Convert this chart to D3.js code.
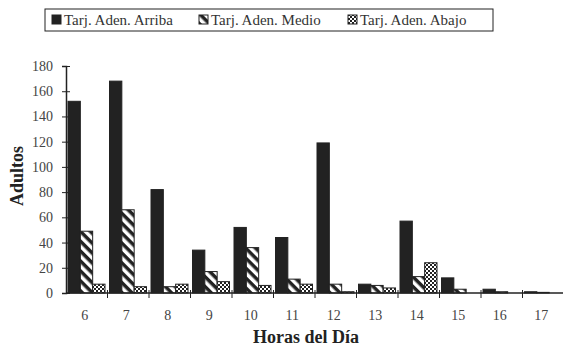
<!DOCTYPE html>
<html>
<head>
<meta charset="utf-8">
<script src="https://cdn.jsdelivr.net/npm/d3@7"></script>
<style>
  body { margin: 0; background: #fff; }
  svg { display: block; font-family: "Liberation Serif", "DejaVu Serif", serif; }
</style>
</head>
<body>
<div id="chart"></div>
<script>
// Chart data
var hours = ['6', '7', '8', '9', '10', '11', '12', '13', '14', '15', '16', '17'];
var seriesNames = ['Tarj. Aden. Arriba', 'Tarj. Aden. Medio', 'Tarj. Aden. Abajo'];
var arriba = [152, 168, 82, 34, 52, 44, 119, 7, 57, 12, 3, 1];
var medio = [49, 66, 5, 17, 36, 11, 7, 6, 13, 3, 1, 0.5];
var abajo = [7, 5, 7, 9, 6, 7, 1, 4, 24, 0, 0, 0];
var yTicks = [0, 20, 40, 60, 80, 100, 120, 140, 160, 180];

var width = 563, height = 349;
var margin = { top: 66, right: -1, bottom: 56, left: 66 };
var ink = "#222";

var svg = d3.select("#chart")
    .append("svg")
    .attr("width", width)
    .attr("height", height);

// Fill patterns: stripes for Medio, checker for Abajo
var defs = svg.append("defs");
var stripes = defs.append("pattern")
    .attr("id", "stripes")
    .attr("patternUnits", "userSpaceOnUse")
    .attr("width", 7).attr("height", 7)
    .attr("patternTransform", "rotate(-45)");
stripes.append("rect").attr("width", 7).attr("height", 7).attr("fill", ink);
stripes.append("rect").attr("x", 0).attr("width", 3.5).attr("height", 7).attr("fill", "#fff");

var checker = defs.append("pattern")
    .attr("id", "checker")
    .attr("patternUnits", "userSpaceOnUse")
    .attr("width", 4).attr("height", 4);
checker.append("rect").attr("width", 4).attr("height", 4).attr("fill", ink);
checker.append("rect").attr("x", 0).attr("y", 0).attr("width", 2).attr("height", 2).attr("fill", "#fff");
checker.append("rect").attr("x", 2).attr("y", 2).attr("width", 2).attr("height", 2).attr("fill", "#fff");

var fills = [ink, "url(#stripes)", "url(#checker)"];

var x = d3.scaleBand().domain(hours).range([margin.left, width - margin.right]).padding(0);
var y = d3.scaleLinear().domain([0, 180]).range([height - margin.bottom, margin.top]);
var sub = d3.scaleBand().domain([0, 1, 2]).range([2, x.bandwidth() - 2.5]).padding(0);

// Bars
var rows = hours.map(function(h, i) {
    return [arriba[i], medio[i], abajo[i]].map(function(v, k) {
        return { hour: h, k: k, value: v };
    });
}).flat();

svg.append("g")
    .selectAll("rect")
    .data(rows)
    .enter().append("rect")
    .attr("x", d => x(d.hour) + sub(d.k))
    .attr("y", d => y(d.value))
    .attr("width", sub.bandwidth())
    .attr("height", d => y(0) - y(d.value))
    .style("fill", d => fills[d.k])
    .style("stroke", ink)
    .style("stroke-width", 1);

// Y axis
var yAxis = svg.append("g")
    .attr("transform", "translate(" + margin.left + ",0)")
    .call(d3.axisLeft(y).tickValues(yTicks).tickSize(4).tickPadding(9));
yAxis.selectAll(".tick line").attr("x2", 4).attr("x1", -4).style("stroke", ink);
yAxis.select(".domain").style("stroke", ink).style("stroke-width", 1.5);
yAxis.selectAll("text")
    .style("font-size", "14px")
    .style("fill", "#444")
    .style("font-family", "Liberation Serif");

// X axis with ticks at band boundaries
var xAxis = svg.append("g").attr("transform", "translate(0," + y(0) + ")");
xAxis.append("line")
    .attr("x1", margin.left).attr("x2", width)
    .style("stroke", ink).style("stroke-width", 1.5);
xAxis.selectAll(".xtick")
    .data(hours)
    .enter().append("line")
    .attr("class", "xtick")
    .attr("x1", d => x(d) + x.bandwidth())
    .attr("x2", d => x(d) + x.bandwidth())
    .attr("y1", -3).attr("y2", 5)
    .style("stroke", ink);
xAxis.selectAll(".xlabel")
    .data(hours)
    .enter().append("text")
    .attr("class", "xlabel")
    .attr("x", d => x(d) + x.bandwidth() / 2 - 2)
    .attr("y", 27)
    .attr("text-anchor", "middle")
    .style("font-size", "14px")
    .style("fill", "#444")
    .text(d => d);

// Axis titles
svg.append("text")
    .attr("transform", "translate(23,176) rotate(-90)")
    .attr("text-anchor", "middle")
    .style("font-size", "18px")
    .style("font-weight", "bold")
    .style("fill", ink)
    .text("Adultos");

svg.append("text")
    .attr("x", 306)
    .attr("y", 343)
    .attr("text-anchor", "middle")
    .style("font-size", "18px")
    .style("font-weight", "bold")
    .style("fill", ink)
    .text("Horas del Día");

// Legend
var legend = svg.append("g");
legend.append("rect")
    .attr("x", 45).attr("y", 9)
    .attr("width", 448).attr("height", 22)
    .style("fill", "#fff")
    .style("stroke", ink);
var legendX = [52, 199, 348];
seriesNames.forEach(function(name, k) {
    legend.append("rect")
        .attr("x", legendX[k]).attr("y", 15)
        .attr("width", 9).attr("height", 9)
        .style("fill", fills[k])
        .style("stroke", ink);
    legend.append("text")
        .attr("x", legendX[k] + 12).attr("y", 25)
        .style("font-size", "15px")
        .style("fill", "#333")
        .text(name);
});
</script>
</body>
</html>
